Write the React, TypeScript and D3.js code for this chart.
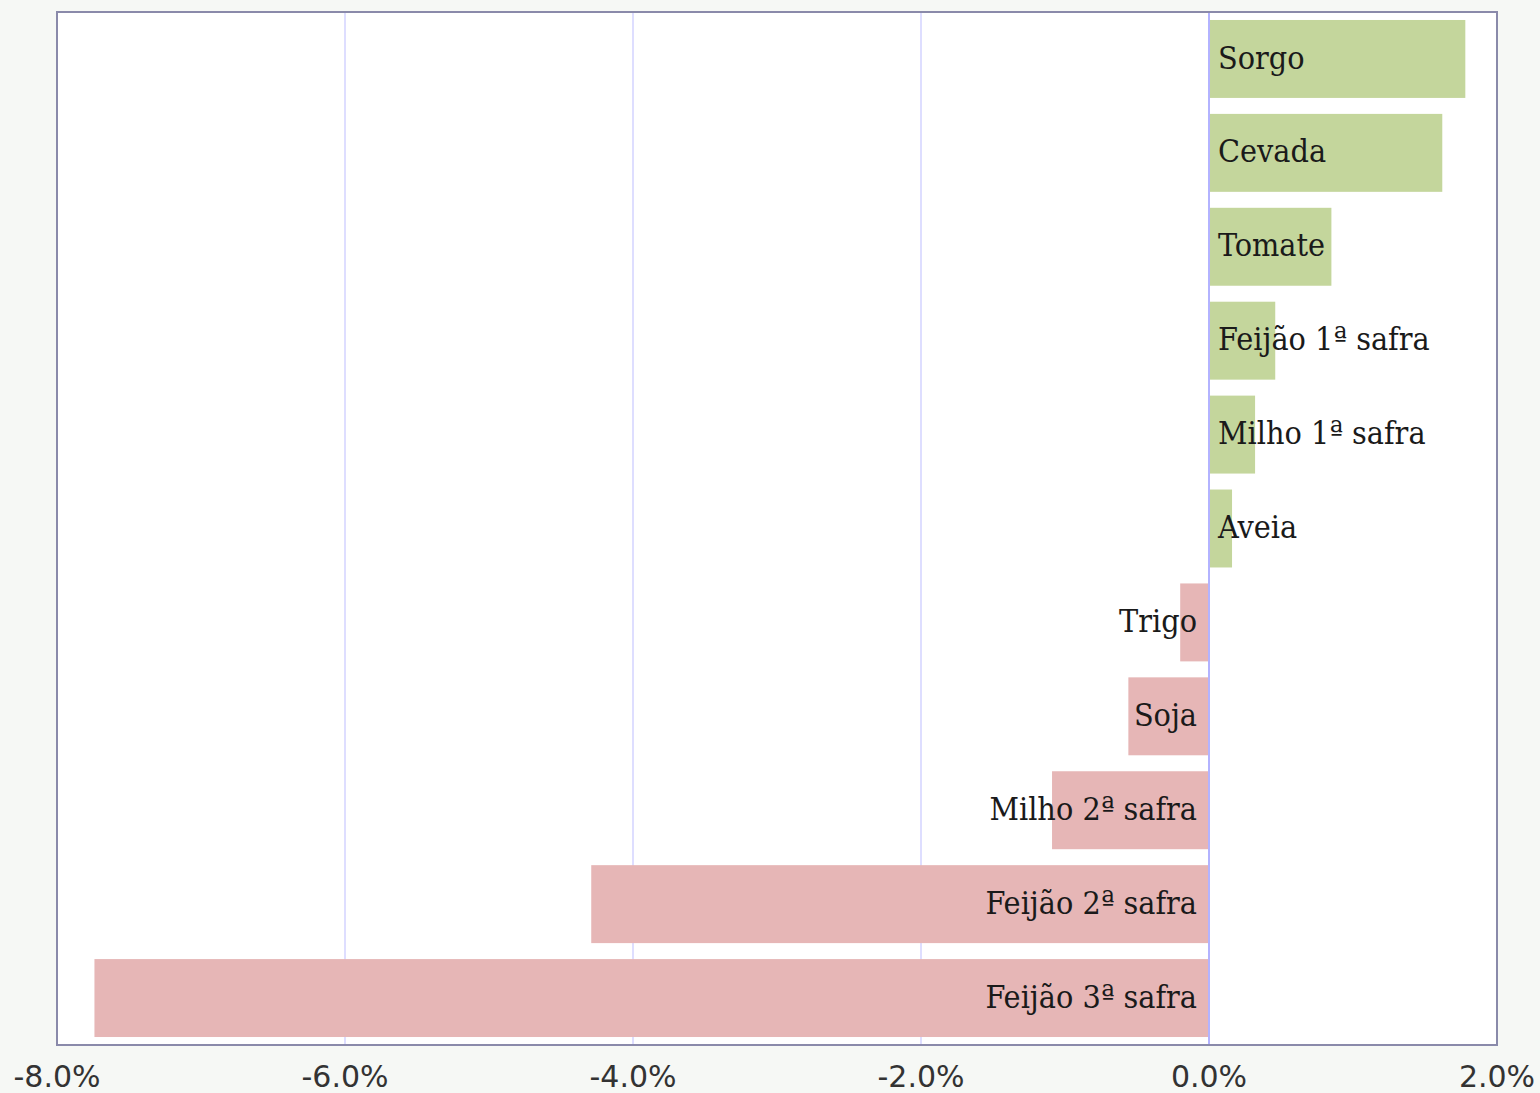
import React, { useEffect, useRef } from "react";
import * as d3 from "d3";

// variação por cultura (%)
const crops = [
  "Sorgo",
  "Cevada",
  "Tomate",
  "Feijão 1ª safra",
  "Milho 1ª safra",
  "Aveia",
  "Trigo",
  "Soja",
  "Milho 2ª safra",
  "Feijão 2ª safra",
  "Feijão 3ª safra",
];
const changes = [1.78, 1.62, 0.85, 0.46, 0.32, 0.16, -0.2, -0.56, -1.09, -4.29, -7.74];
const ticks = [-8, -6, -4, -2, 0, 2];

const W = 1540;
const H = 1093;
const margin = { top: 12, right: 43, bottom: 48, left: 57 };

export default function App() {
  const ref = useRef<SVGSVGElement>(null);

  useEffect(() => {
    const svg = d3.select(ref.current);
    svg.selectAll("*").remove();

    const x = d3.scaleLinear().domain([-8, 2]).range([margin.left, W - margin.right]);
    const y = d3
      .scaleBand<string>()
      .domain(crops)
      .range([margin.top, H - margin.bottom])
      .paddingInner(0.17)
      .paddingOuter(0.085);

    const data = crops.map((c, i) => ({ name: c, v: changes[i] }));

    svg.append("rect").attr("width", W).attr("height", H).attr("fill", "#f6f8f5");
    svg
      .append("rect")
      .attr("x", x(-8))
      .attr("y", margin.top)
      .attr("width", x(2) - x(-8))
      .attr("height", H - margin.bottom - margin.top)
      .attr("fill", "#fff");

    // grid
    svg
      .append("g")
      .selectAll("line")
      .data(ticks.filter((t) => t !== 0 && t !== -8 && t !== 2))
      .enter()
      .append("line")
      .attr("x1", (d) => x(d))
      .attr("x2", (d) => x(d))
      .attr("y1", margin.top)
      .attr("y2", H - margin.bottom)
      .attr("stroke", "#c8c8ff")
      .attr("stroke-width", 1.2);

    svg
      .append("g")
      .selectAll("rect")
      .data(data)
      .enter()
      .append("rect")
      .attr("x", (d) => x(Math.min(0, d.v)))
      .attr("width", (d) => Math.abs(x(d.v) - x(0)))
      .attr("y", (d) => y(d.name)!)
      .attr("height", y.bandwidth())
      .attr("fill", (d) => (d.v >= 0 ? "#c4d69c" : "#e6b6b6"));

    // zero line
    svg
      .append("line")
      .attr("x1", x(0))
      .attr("x2", x(0))
      .attr("y1", margin.top)
      .attr("y2", H - margin.bottom)
      .attr("stroke", "#b3b3ff")
      .attr("stroke-width", 2);

    svg
      .append("g")
      .selectAll("text")
      .data(data)
      .enter()
      .append("text")
      .attr("x", (d) => (d.v >= 0 ? x(0) + 9 : x(0) - 12))
      .attr("y", (d) => y(d.name)! + y.bandwidth() / 2)
      .attr("dy", "0.3em")
      .attr("text-anchor", (d) => (d.v >= 0 ? "start" : "end"))
      .attr("font-family", "'DejaVu Serif Condensed', 'DejaVu Serif', serif")
      .attr("font-stretch", "condensed")
      .attr("font-size", 32)
      .attr("fill", "#1a1a1a")
      .text((d) => d.name);

    // frame
    svg
      .append("rect")
      .attr("x", x(-8))
      .attr("y", margin.top)
      .attr("width", x(2) - x(-8))
      .attr("height", H - margin.bottom - margin.top)
      .attr("fill", "none")
      .attr("stroke", "#8a8aaa")
      .attr("stroke-width", 2);

    svg
      .append("g")
      .selectAll("text")
      .data(ticks)
      .enter()
      .append("text")
      .attr("x", (d) => x(d))
      .attr("y", H - 6)
      .attr("text-anchor", "middle")
      .attr("font-family", "'DejaVu Sans', sans-serif")
      .attr("font-size", 30)
      .attr("fill", "#333")
      .text((d) => `${d.toFixed(1)}%`);
  }, []);

  return (
    <div style={{ position: "fixed", left: 0, top: 0 }}>
      <svg ref={ref} width={W} height={H} style={{ display: "block" }} />
    </div>
  );
}
